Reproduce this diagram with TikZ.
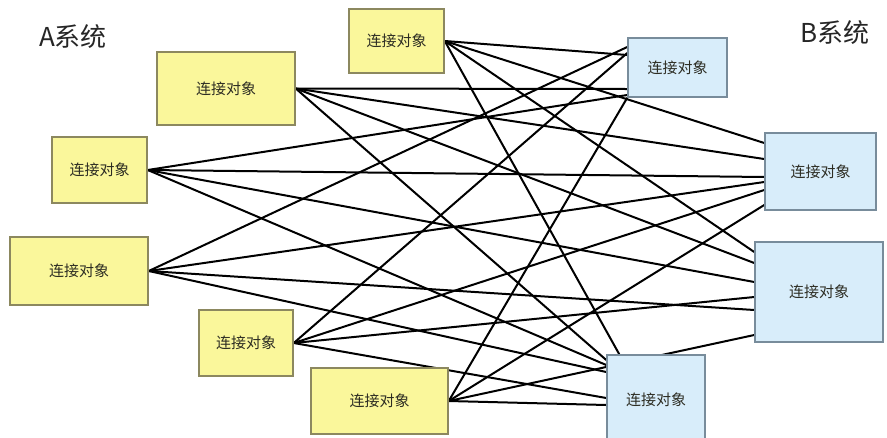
\documentclass[tikz,border=0pt]{standalone}
\usepackage{fontspec}
\newfontfamily\cjk{Noto Sans CJK SC}
\usetikzlibrary{backgrounds}

\definecolor{afill}{RGB}{250,247,155}
\definecolor{aborder}{RGB}{140,136,95}
\definecolor{bfill}{RGB}{216,237,250}
\definecolor{bborder}{RGB}{120,140,155}
\definecolor{objtext}{RGB}{45,45,35}

\begin{document}
\begin{tikzpicture} [
    x=1pt, y=-1pt,
    aobj/.style={rectangle, draw=aborder, line width=1.5pt, fill=afill, font=\cjk\fontsize{15}{17}\selectfont, text=objtext, text centered, inner sep=0pt},
    bobj/.style={rectangle, draw=bborder, line width=1.5pt, fill=bfill, font=\cjk\fontsize{15}{17}\selectfont, text=objtext, text centered, inner sep=0pt},
    syslabel/.style={font=\cjk\fontsize{26}{30}\selectfont, text=black!85, inner sep=0pt},
    link/.style={black, line width=2pt}
]

\useasboundingbox (0,0) rectangle (887,437);

% LAYER 1: system titles
\node[syslabel] (sys_a) at (73,37) {A系统};
\node[syslabel] (sys_b) at (835,33) {B系统};

% LAYER 2: connection objects of system A
\node[aobj, minimum width=95pt, minimum height=64pt] (a_obj1) at (396.5,41) {连接对象};
\node[aobj, minimum width=138pt, minimum height=73pt] (a_obj2) at (226,88.5) {连接对象};
\node[aobj, minimum width=95pt, minimum height=66pt] (a_obj3) at (99.5,170) {连接对象};
\node[aobj, minimum width=138pt, minimum height=68pt] (a_obj4) at (79,271) {连接对象};
\node[aobj, minimum width=94pt, minimum height=66pt] (a_obj5) at (246,343) {连接对象};
\node[aobj, minimum width=137pt, minimum height=66pt] (a_obj6) at (379.5,401) {连接对象};

% connection objects of system B
\node[bobj, minimum width=99pt, minimum height=59pt] (b_obj1) at (677.5,67.5) {连接对象};
\node[bobj, minimum width=111pt, minimum height=77pt] (b_obj2) at (820.5,171.5) {连接对象};
\node[bobj, minimum width=128pt, minimum height=100pt] (b_obj3) at (819,292) {连接对象};
\node[bobj, minimum width=98pt, minimum height=90pt] (b_obj4) at (656,400) {连接对象};

% LAYER 3: every A object linked to every B object
\begin{scope}[on background layer]
\draw[link] (a_obj1.east) -- ([yshift=12.5pt]b_obj1.west);
\draw[link] (a_obj1.east) -- ([yshift=28.5pt]b_obj2.west);
\draw[link] (a_obj1.east) -- ([yshift=40pt]b_obj3.west);
\draw[link] (a_obj1.east) -- ([xshift=13pt]b_obj4.north west);

\draw[link] (a_obj2.east) -- ([yshift=-21.5pt]b_obj1.west);
\draw[link] (a_obj2.east) -- ([yshift=12.5pt]b_obj2.west);
\draw[link] (a_obj2.east) -- ([yshift=29pt]b_obj3.west);
\draw[link] (a_obj2.east) -- ([yshift=40pt]b_obj4.west);

\draw[link] (a_obj3.east) -- ([yshift=-27.5pt]b_obj1.west);
\draw[link] (a_obj3.east) -- ([yshift=-5.5pt]b_obj2.west);
\draw[link] (a_obj3.east) -- ([yshift=10pt]b_obj3.west);
\draw[link] (a_obj3.east) -- ([yshift=35pt]b_obj4.west);

\draw[link] (a_obj4.east) -- ([yshift=20.5pt]b_obj1.west);
\draw[link] (a_obj4.east) -- ([yshift=-10.5pt]b_obj2.west);
\draw[link] (a_obj4.east) -- ([yshift=-18pt]b_obj3.west);
\draw[link] (a_obj4.east) -- ([yshift=28pt]b_obj4.west);

\draw[link] (a_obj5.east) -- ([yshift=14.5pt]b_obj1.west);
\draw[link] (a_obj5.east) -- ([yshift=-18.5pt]b_obj2.west);
\draw[link] (a_obj5.east) -- ([yshift=-5pt]b_obj3.west);
\draw[link] (a_obj5.east) -- ([yshift=2pt]b_obj4.west);

\draw[link] (a_obj6.east) -- (b_obj1.south west);
\draw[link] (a_obj6.east) -- ([yshift=-33.5pt]b_obj2.west);
\draw[link] (a_obj6.east) -- ([yshift=-43pt]b_obj3.west);
\draw[link] (a_obj6.east) -- ([yshift=-5pt]b_obj4.west);
\end{scope}

\end{tikzpicture}
\end{document}
